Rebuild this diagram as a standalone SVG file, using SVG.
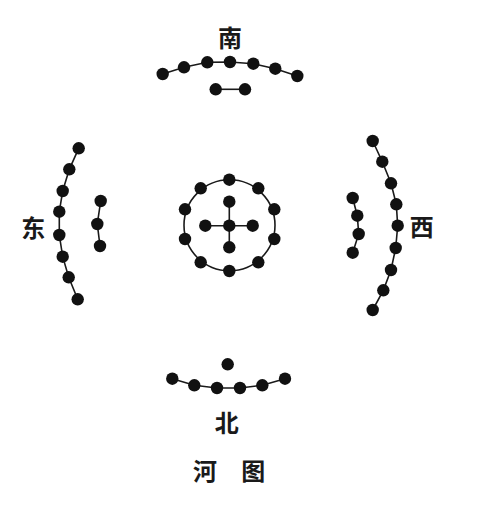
<svg xmlns="http://www.w3.org/2000/svg" width="479" height="508" viewBox="0 0 479 508">
<style>
.ln{fill:none;stroke:#1a1a1a;stroke-width:1.6}
.d{fill:#111}
.t{font-family:"Noto Sans CJK SC","Noto Sans CJK JP",sans-serif;font-weight:bold;font-size:24px;fill:#1a1a1a;text-anchor:middle;dominant-baseline:central}
</style>
<rect width="479" height="508" fill="#fff"/>
<g id="connectors">
<polyline class="ln" points="162.7,74 184,67.3 207.3,62.3 230,62 253.3,63.7 275.3,68.7 297.3,76"/>
<line class="ln" x1="215.7" y1="89.3" x2="245" y2="89.3"/>
<polyline class="ln" points="78.7,148.3 69.3,169.3 62.7,191 59.3,211.7 59.3,235 62.7,256.7 68.7,277.3 77.7,299.3"/>
<polyline class="ln" points="100.7,201 97.3,224 100,246"/>
<polyline class="ln" points="372.7,141 382.3,161.7 391,183.3 396.3,204.3 397.7,225.7 395.7,248 391,270 383.3,290.3 372.7,310"/>
<polyline class="ln" points="352.7,198 357.3,215.7 358.7,234 352.7,252.7"/>
<circle class="ln" cx="229.5" cy="225.3" r="45.5"/>
<line class="ln" x1="229.3" y1="201.7" x2="229.3" y2="247.3"/>
<line class="ln" x1="205.3" y1="225.7" x2="252.7" y2="225.7"/>
<polyline class="ln" points="172.3,378.7 194.3,385.3 217,388 240,388 262.3,385.3 285,378.7"/>
</g>
<g id="south">
<circle class="d" cx="162.7" cy="74" r="6.2"/><circle class="d" cx="184" cy="67.3" r="6.2"/><circle class="d" cx="207.3" cy="62.3" r="6.2"/><circle class="d" cx="230" cy="62" r="6.2"/><circle class="d" cx="253.3" cy="63.7" r="6.2"/><circle class="d" cx="275.3" cy="68.7" r="6.2"/><circle class="d" cx="297.3" cy="76" r="6.2"/>
<circle class="d" cx="215.7" cy="89.3" r="6.2"/><circle class="d" cx="245" cy="89.3" r="6.2"/>
<text class="t" x="230" y="36.7">南</text>
</g>
<g id="east">
<circle class="d" cx="78.7" cy="148.3" r="6.2"/><circle class="d" cx="69.3" cy="169.3" r="6.2"/><circle class="d" cx="62.7" cy="191" r="6.2"/><circle class="d" cx="59.3" cy="211.7" r="6.2"/><circle class="d" cx="59.3" cy="235" r="6.2"/><circle class="d" cx="62.7" cy="256.7" r="6.2"/><circle class="d" cx="68.7" cy="277.3" r="6.2"/><circle class="d" cx="77.7" cy="299.3" r="6.2"/>
<circle class="d" cx="100.7" cy="201" r="6.2"/><circle class="d" cx="97.3" cy="224" r="6.2"/><circle class="d" cx="100" cy="246" r="6.2"/>
<text class="t" x="33.3" y="226">东</text>
</g>
<g id="west">
<circle class="d" cx="372.7" cy="141" r="6.2"/><circle class="d" cx="382.3" cy="161.7" r="6.2"/><circle class="d" cx="391" cy="183.3" r="6.2"/><circle class="d" cx="396.3" cy="204.3" r="6.2"/><circle class="d" cx="397.7" cy="225.7" r="6.2"/><circle class="d" cx="395.7" cy="248" r="6.2"/><circle class="d" cx="391" cy="270" r="6.2"/><circle class="d" cx="383.3" cy="290.3" r="6.2"/><circle class="d" cx="372.7" cy="310" r="6.2"/>
<circle class="d" cx="352.7" cy="198" r="6.2"/><circle class="d" cx="357.3" cy="215.7" r="6.2"/><circle class="d" cx="358.7" cy="234" r="6.2"/><circle class="d" cx="352.7" cy="252.7" r="6.2"/>
<text class="t" x="421.7" y="225">西</text>
</g>
<g id="center">
<circle class="d" cx="229.3" cy="179.7" r="6.2"/><circle class="d" cx="258.3" cy="188.3" r="6.2"/><circle class="d" cx="274.3" cy="209.3" r="6.2"/><circle class="d" cx="274.3" cy="239" r="6.2"/><circle class="d" cx="258.3" cy="262.3" r="6.2"/><circle class="d" cx="229.3" cy="271" r="6.2"/><circle class="d" cx="200.7" cy="262.3" r="6.2"/><circle class="d" cx="185" cy="239" r="6.2"/><circle class="d" cx="185" cy="209.3" r="6.2"/><circle class="d" cx="200.7" cy="188.3" r="6.2"/>
<circle class="d" cx="229.3" cy="225.7" r="6.2"/><circle class="d" cx="229.3" cy="201.7" r="6.2"/><circle class="d" cx="229.3" cy="247.3" r="6.2"/><circle class="d" cx="205.3" cy="225.7" r="6.2"/><circle class="d" cx="252.7" cy="225.7" r="6.2"/>
</g>
<g id="north">
<circle class="d" cx="227.7" cy="364.3" r="6.2"/>
<circle class="d" cx="172.3" cy="378.7" r="6.2"/><circle class="d" cx="194.3" cy="385.3" r="6.2"/><circle class="d" cx="217" cy="388" r="6.2"/><circle class="d" cx="240" cy="388" r="6.2"/><circle class="d" cx="262.3" cy="385.3" r="6.2"/><circle class="d" cx="285" cy="378.7" r="6.2"/>
<text class="t" x="226.7" y="421.7">北</text>
</g>
<g id="title">
<text class="t" x="205" y="469">河</text>
<text class="t" x="253.3" y="469">图</text>
</g>
</svg>
